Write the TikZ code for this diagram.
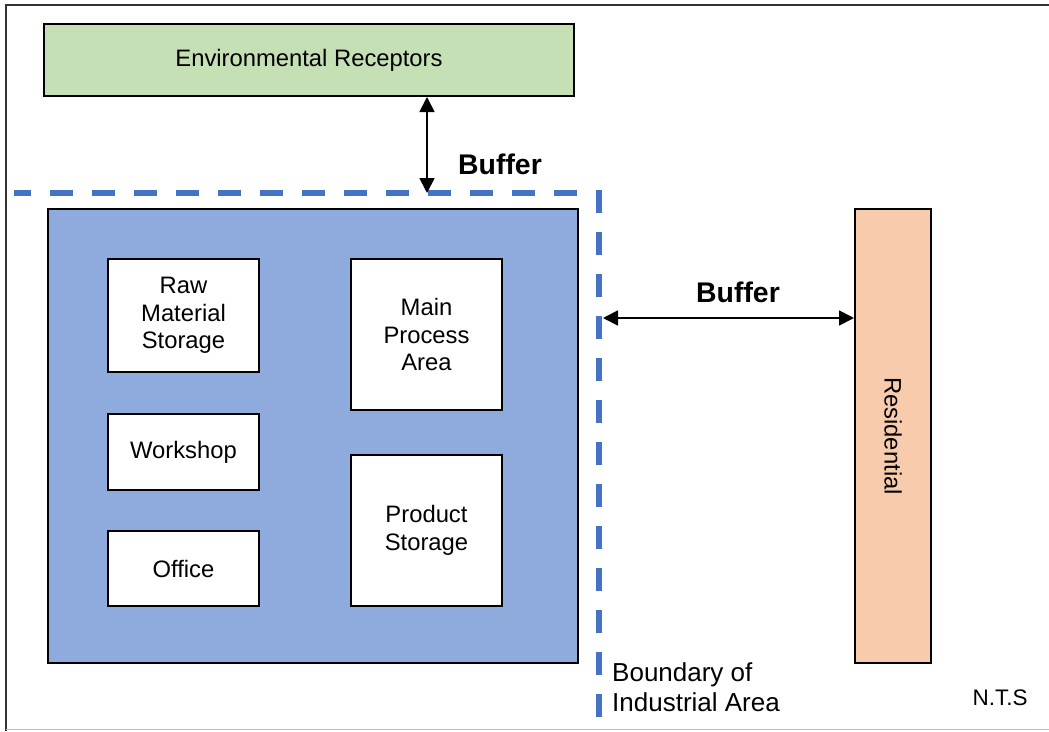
\documentclass[tikz,border=0pt]{standalone}
\usepackage{fontspec}
\setmainfont{Liberation Sans}
\usetikzlibrary{arrows.meta}
\definecolor{greenfill}{HTML}{C5E0B4}
\definecolor{bluefill}{HTML}{8FAADC}
\definecolor{peachfill}{HTML}{F8CBAD}
\definecolor{dashblue}{HTML}{4472C4}
\tikzset{
  box/.style={draw=black, line width=2pt, fill=white, align=center, inner sep=0pt,
    font=\fontsize{23.8}{27.5}\selectfont},
  bufarrow/.style={line width=1.8pt, {Triangle[length=15pt,width=15pt]}-{Triangle[length=15pt,width=15pt]}},
  buflabel/.style={font=\fontsize{28.4}{32}\selectfont\bfseries},
  plain/.style={font=\fontsize{26}{30}\selectfont, align=left, inner sep=0pt},
}
\begin{document}
\begin{tikzpicture}[x=1pt, y=-1pt]
\useasboundingbox (0,0) rectangle (1049,731);
% page frame
\draw[line width=2pt, black!80] (6,731) -- (6,5) -- (1049,5);
\draw[line width=1pt, black!25] (6,729.5) -- (1049,729.5);

% environmental receptors
\node[box, fill=greenfill, minimum width=530pt, minimum height=72pt,
  anchor=north west] (env) at (43,23) {Environmental Receptors};

% industrial site
\node[draw=black, line width=2pt, fill=bluefill, minimum width=530pt, minimum height=454pt,
  anchor=north west, inner sep=0pt] (site) at (47,208) {};

\node[box, minimum width=151pt, minimum height=113pt, anchor=north west] (raw) at (107,258)
  {Raw\\Material\\Storage};
\node[box, minimum width=151pt, minimum height=76pt, anchor=north west] (work) at (107,413)
  {Workshop};
\node[box, minimum width=151pt, minimum height=75pt, anchor=north west] (office) at (107,530)
  {Office};
\node[box, minimum width=151pt, minimum height=151pt, anchor=north west] (main) at (350,258)
  {Main\\Process\\Area};
\node[box, minimum width=151pt, minimum height=151pt, anchor=north west] (prod) at (350,454)
  {Product\\Storage};

% residential strip
\node[box, fill=peachfill, minimum width=76pt, minimum height=454pt, anchor=north west]
  (res) at (854,208) {};
\node[rotate=-90, font=\fontsize{23.8}{27}\selectfont] (restext) at (res.center) {Residential};

% boundary of industrial area
\coordinate (bstart) at (14,193);
\coordinate (bcorner) at (599,193);
\coordinate (bend) at (599,717);
\draw[dashblue, line width=5.5pt, dash pattern=on 23pt off 19pt, dash phase=6pt]
  (bstart) -- (bcorner) -- (bend);

% buffers
\coordinate (topbuf) at (427,193);
\draw[bufarrow] (env.south -| topbuf) -- (topbuf);
\node[buflabel] (buf1) at (500,164) {Buffer};

\coordinate (sidebuf) at (603,318);
\draw[bufarrow] (sidebuf) -- (sidebuf -| res.west);
\node[buflabel] (buf2) at (738,292) {Buffer};

\node[plain, anchor=north west] (blabel) at (612,662) {Boundary of\\Industrial Area};
\node[font=\fontsize{22.5}{26}\selectfont] (nts) at (1000,698) {N.T.S};
\end{tikzpicture}
\end{document}
